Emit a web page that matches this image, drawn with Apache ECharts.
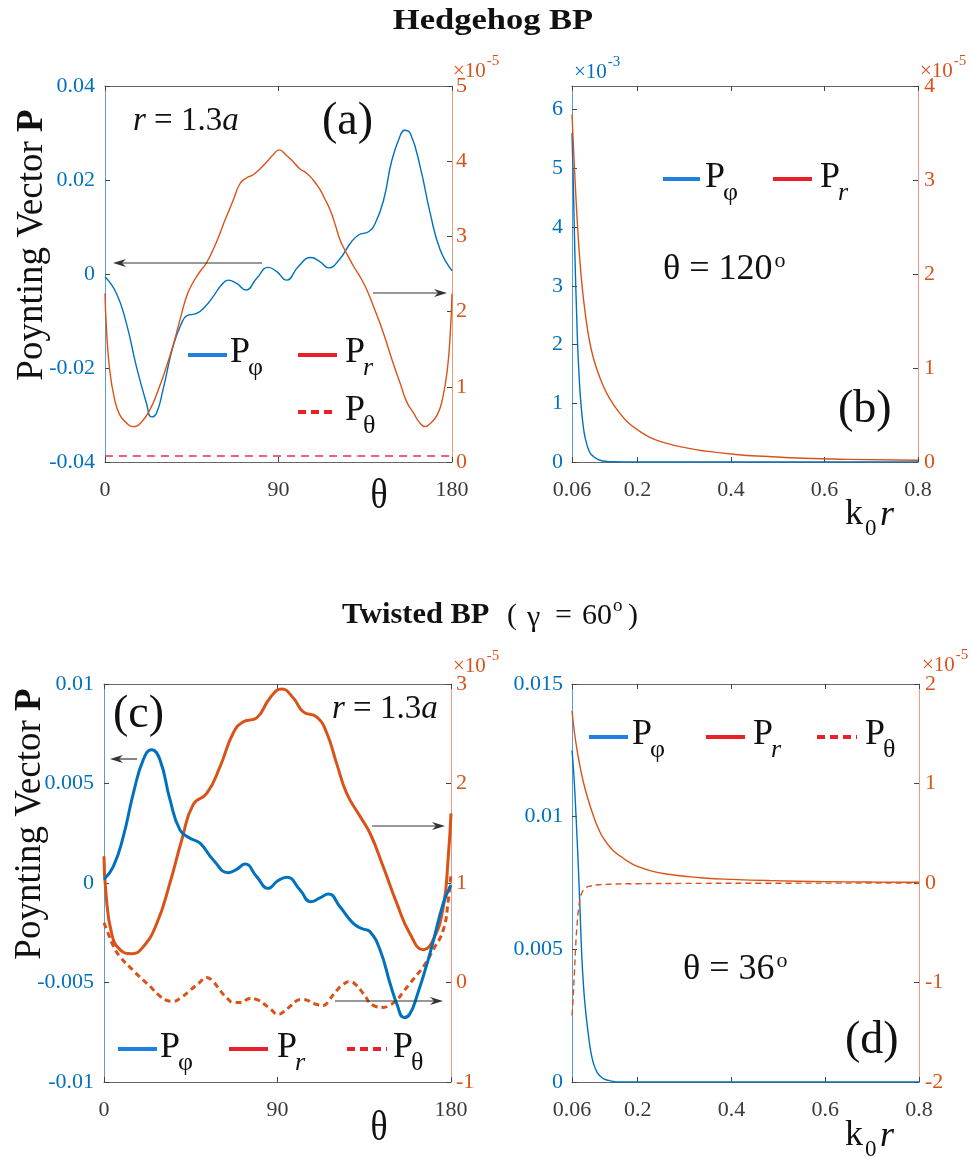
<!DOCTYPE html>
<html>
<head>
<meta charset="utf-8">
<title>Poynting vector</title>
<script src="https://cdn.jsdelivr.net/npm/echarts@6.0.0/dist/echarts.min.js"></script>
<style>
  html, body { margin: 0; padding: 0; background: #fff; }
  #chart { width: 971px; height: 1157px; }
</style>
</head>
<body>
<div id="chart"></div>
<script>
// values
// (a) hedgehog, r = 1.3a, versus theta
const thetaPhiA = [0, 5.9, 11.1, 16.3, 21.5, 24.1, 26.7, 30.1, 35.3, 39.7, 42.3, 47.5, 51.8, 56.1, 60.5, 63.9, 68.3, 73.1, 78.7, 84.7, 89.1, 94.2, 100.3, 106.7, 111.6, 115.9, 122, 127.2, 131.5, 136.7, 140.2, 144.5, 148.8, 153.2, 155.4, 158.4, 163.5, 168.7, 173.9, 180]
const pPhiA = [-0.0006, -0.0041, -0.0105, -0.0197, -0.0275, -0.0304, -0.0296, -0.0246, -0.0154, -0.0105, -0.0089, -0.0084, -0.0070, -0.0048, -0.0023, -0.0013, -0.0020, -0.0034, -0.0009, 0.0014, 0.0005, -0.0013, 0.0016, 0.0035, 0.0026, 0.0013, 0.0033, 0.0065, 0.0083, 0.0090, 0.0108, 0.0157, 0.0242, 0.0295, 0.0306, 0.0299, 0.0228, 0.0129, 0.0051, 0.0007]
const thetaRA = [0, 0.7, 2.4, 5, 7.6, 11.1, 14.6, 18.5, 23.2, 27.5, 31.9, 35.3, 39, 42.3, 45.5, 49.2, 52.7, 57.9, 62, 66.5, 70, 73.5, 76.9, 80.5, 83.9, 87, 90.4, 94, 97.7, 101, 104.6, 108, 111.6, 114, 116.8, 119.5, 122, 125.4, 129, 132.4, 135.8, 140, 144.5, 149, 153.2, 156.5, 160.1, 163, 166.1, 169, 172.4, 175, 177.6, 179.3, 180]
const pRA = [2.24, 1.8, 1.23, 0.83, 0.63, 0.52, 0.47, 0.52, 0.69, 0.95, 1.27, 1.55, 1.9, 2.2, 2.38, 2.53, 2.65, 2.93, 3.2, 3.48, 3.7, 3.78, 3.82, 3.9, 3.99, 4.08, 4.15, 4.08, 3.99, 3.9, 3.84, 3.75, 3.62, 3.5, 3.35, 3.15, 2.95, 2.77, 2.6, 2.46, 2.29, 2.02, 1.71, 1.35, 1.04, 0.8, 0.65, 0.53, 0.47, 0.52, 0.63, 0.83, 1.23, 1.8, 2.24] // x1e-5
const thetaThA = [0, 180]
const pThA = [0.08, 0.08] // x1e-5

// (b) hedgehog, theta = 120, versus k0 r
const kPhiB = [0.06, 0.062, 0.064, 0.066, 0.068, 0.07, 0.072, 0.075, 0.078, 0.082, 0.086, 0.09, 0.095, 0.1, 0.105, 0.11, 0.12, 0.135, 0.15, 0.17, 0.2, 0.4, 0.6, 0.8]
const pPhiB = [5.6, 5.0, 4.3, 3.6, 3.0, 2.5, 2.0, 1.5, 1.1, 0.75, 0.5, 0.35, 0.22, 0.14, 0.1, 0.07, 0.03, 0.01, 0.004, 0.001, 0, 0, 0, 0] // x1e-3
const kRB = [0.06, 0.0625, 0.065, 0.0686, 0.072, 0.076, 0.082, 0.09, 0.097, 0.105, 0.115, 0.126, 0.14, 0.162, 0.18, 0.198, 0.23, 0.269, 0.3, 0.34, 0.41, 0.48, 0.555, 0.65, 0.8]
const pRB = [3.70, 3.42, 3.15, 2.8, 2.5, 2.2, 1.85, 1.52, 1.3, 1.12, 0.96, 0.82, 0.68, 0.52, 0.42, 0.35, 0.255, 0.19, 0.155, 0.12, 0.08, 0.058, 0.04, 0.028, 0.018] // x1e-5

// (c) twisted, r = 1.3a, versus theta
const thetaPhiC = [0, 4.8, 10, 15.2, 20.4, 24.7, 29, 34.2, 39.4, 44.6, 49.8, 56.7, 64.5, 69, 73.1, 79.2, 85.2, 90, 94.8, 101.7, 107.2, 112, 116.4, 122.4, 129.3, 134, 138, 143.2, 148.4, 152, 155.6, 158.5, 162.2, 169.1, 176, 180]
const pPhiC = [0.00018, 0.00082, 0.00233, 0.0045, 0.0062, 0.0067, 0.0062, 0.0042, 0.00267, 0.00225, 0.002, 0.00116, 0.00052, 0.0007, 0.00096, 0.00032, -0.00027, 0.0001, 0.00029, -0.00035, -0.00094, -0.00075, -0.00055, -0.00119, -0.00203, -0.0023, -0.00245, -0.00337, -0.00505, -0.0061, -0.00676, -0.0066, -0.00572, -0.00354, -0.00102, -0.0001]
const thetaRC = [0, 1, 4, 8.3, 14.4, 20.4, 27.3, 34.2, 40.3, 46.3, 53.3, 60.2, 67.1, 72.3, 79.2, 86.1, 92.2, 98.2, 103.4, 110.3, 115.5, 120.7, 125.9, 132.8, 138, 144.9, 151.8, 158.7, 165.7, 170.8, 176, 178.6, 180]
const pRC = [1.27, 0.9, 0.49, 0.33, 0.29, 0.36, 0.59, 1.0, 1.43, 1.79, 1.9, 2.17, 2.51, 2.62, 2.66, 2.86, 2.95, 2.86, 2.72, 2.67, 2.51, 2.2, 1.9, 1.67, 1.5, 1.16, 0.8, 0.49, 0.33, 0.43, 0.76, 1.27, 1.7] // x1e-5
const thetaThC = [0, 2, 5, 8.3, 15.2, 20, 24, 28, 32.5, 36, 40, 44.6, 49, 53.3, 57, 60.2, 64, 67, 71, 75.7, 79, 82.7, 86.5, 90.4, 93.5, 96.5, 99.5, 102.5, 105.5, 108.6, 113.8, 117, 120.7, 124, 127.6, 131, 134.5, 139.7, 144.9, 148, 151.8, 155, 158.7, 162, 165.7, 170.8, 176, 178.6, 180]
const pThC = [0.6, 0.5, 0.36, 0.26, 0.12, 0.03, -0.04, -0.12, -0.18, -0.19, -0.15, -0.08, -0.01, 0.05, 0.0, -0.08, -0.16, -0.2, -0.2, -0.16, -0.17, -0.21, -0.27, -0.32, -0.29, -0.24, -0.19, -0.17, -0.18, -0.21, -0.23, -0.17, -0.08, -0.02, 0.01, -0.03, -0.11, -0.23, -0.25, -0.23, -0.18, -0.1, -0.01, 0.07, 0.16, 0.33, 0.53, 0.83, 1.1] // x1e-5

// (d) twisted, theta = 36, versus k0 r
const kPhiD = [0.06, 0.0635, 0.067, 0.0705, 0.074, 0.0775, 0.081, 0.085, 0.089, 0.092, 0.097, 0.1, 0.106, 0.113, 0.12, 0.127, 0.14, 0.163, 0.2, 0.4, 0.6, 0.8]
const pPhiD = [0.0125, 0.0117, 0.0106, 0.0093, 0.0079, 0.0063, 0.0047, 0.0035, 0.0027, 0.0022, 0.0015, 0.00115, 0.00069, 0.00038, 0.00022, 0.00013, 0.00005, 0, 0, 0, 0, 0]
const kRD = [0.06, 0.065, 0.071, 0.078, 0.085, 0.095, 0.106, 0.115, 0.127, 0.145, 0.163, 0.18, 0.198, 0.23, 0.27, 0.3, 0.34, 0.4, 0.483, 0.6, 0.7, 0.8]
const pRD = [1.73, 1.52, 1.33, 1.15, 1.0, 0.83, 0.67, 0.56, 0.45, 0.34, 0.27, 0.215, 0.17, 0.12, 0.085, 0.068, 0.05, 0.036, 0.024, 0.014, 0.01, 0.007] // x1e-5
const kThD = [0.06, 0.062, 0.065, 0.068, 0.071, 0.074, 0.078, 0.083, 0.088, 0.1, 0.113, 0.14, 0.2, 0.3, 0.5, 0.8]
const pThD = [-1.33, -1.2, -0.91, -0.62, -0.41, -0.26, -0.14, -0.08, -0.05, -0.03, -0.02, -0.012, -0.007, -0.004, -0.002, 0] // x1e-5

// tick positions
const thetaTicks = [0, 90, 180]
const kTicks = [0.06, 0.2, 0.4, 0.6, 0.8]

const SERIF = '"Liberation Serif", "Times New Roman", Times, serif'
const BLUE = '#0072BD'
const ORANGE = '#D95319'
const LEG_BLUE = '#1f80e0'
const LEG_RED = '#e8202a'

const chart = echarts.init(document.getElementById('chart'))

// text width, used to hang super/subscripts after a run of text
const mctx = document.createElement('canvas').getContext('2d')
const textWidth = (s, size, weight) => {
  mctx.font = `${weight || 'normal'} ${size}px ${SERIF}`
  return mctx.measureText(s).width
}

const grids = [
  { left: 105, top: 86, width: 347, height: 376 },
  { left: 572, top: 86, width: 346, height: 376 },
  { left: 104, top: 684, width: 347, height: 398 },
  { left: 572, top: 684, width: 347, height: 398 }
]

const tickStyle = () => ({ show: true, inside: true, length: 5, lineStyle: { color: '#444', width: 1 } })

// bottom + top x axis for a grid
const xPair = (gi, min, max, ticks, interval) => ['bottom', 'top'].map(pos => ({
  gridIndex: gi, type: 'value', position: pos, min, max, interval,
  splitLine: { show: false },
  axisLine: { show: true, onZero: false, lineStyle: { color: '#666', width: 1 } },
  axisTick: Object.assign(tickStyle(), { customValues: ticks }),
  axisLabel: {
    show: pos === 'bottom', customValues: ticks, margin: 17,
    color: '#3a3a3a', fontFamily: SERIF, fontSize: 22,
    formatter: v => String(+(+v).toFixed(3))
  }
}))

const yAx = (gi, pos, min, max, interval, color, lineColor, margin, ticks) => ({
  gridIndex: gi, type: 'value', position: pos, min, max, interval,
  splitLine: { show: false },
  axisLine: { show: true, onZero: false, lineStyle: { color: lineColor, width: 1 } },
  axisTick: Object.assign(tickStyle(), ticks ? { customValues: ticks } : {}),
  axisLabel: Object.assign({
    color, fontFamily: SERIF, fontSize: 22, margin,
    formatter: v => String(+(+v).toFixed(4))
  }, ticks ? { customValues: ticks } : {})
})

const xAxis = [
  ...xPair(0, 0, 180, thetaTicks, 90),
  ...xPair(1, 0.06, 0.8, kTicks),
  ...xPair(2, 0, 180, thetaTicks, 90),
  ...xPair(3, 0.06, 0.8, kTicks)
]

const yAxis = [
  yAx(0, 'left', -0.04, 0.04, 0.02, BLUE, '#5a9bd8', 10),
  yAx(0, 'right', 0, 5, 1, ORANGE, '#eb9a7c', 4),
  yAx(1, 'left', 0, 6.4, 1, BLUE, '#5a9bd8', 9, [0, 1, 2, 3, 4, 5, 6]),
  yAx(1, 'right', 0, 4, 1, ORANGE, '#eb9a7c', 6),
  yAx(2, 'left', -0.01, 0.01, 0.005, BLUE, '#5a9bd8', 10),
  yAx(2, 'right', -1, 3, 1, ORANGE, '#eb9a7c', 5),
  yAx(3, 'left', 0, 0.015, 0.005, BLUE, '#5a9bd8', 9),
  yAx(3, 'right', -2, 2, 1, ORANGE, '#eb9a7c', 6)
]

const pairs = (xs, ys) => xs.map((x, i) => [x, ys[i]])

const line = (gi, right, xs, ys, color, width, dash) => ({
  type: 'line',
  xAxisIndex: gi * 2,
  yAxisIndex: gi * 2 + (right ? 1 : 0),
  data: pairs(xs, ys),
  showSymbol: false,
  symbol: 'none',
  smooth: 0.5,
  lineStyle: { color, width, type: dash || 'solid' },
  silent: true
})

const series = [
  line(0, false, thetaPhiA, pPhiA, BLUE, 1.4),
  line(0, true, thetaRA, pRA, ORANGE, 1.4),
  line(0, true, thetaThA, pThA, '#e2304a', 1.4, [8, 6]),
  line(1, false, kPhiB, pPhiB, BLUE, 1.4),
  line(1, true, kRB, pRB, ORANGE, 1.4),
  line(2, true, thetaThC, pThC, ORANGE, 3, [6, 4]),
  line(2, true, thetaRC, pRC, ORANGE, 3),
  line(2, false, thetaPhiC, pPhiC, BLUE, 3),
  line(3, false, kPhiD, pPhiD, BLUE, 1.4),
  line(3, true, kRD, pRD, ORANGE, 1.4),
  line(3, true, kThD, pThD, ORANGE, 1.4, [6, 4])
]

// annotations
const text = (x, y, s, size, o = {}) => ({
  type: 'text', x, y, z: 100,
  rotation: o.rotation || 0,
  scaleX: o.scaleX || 1,
  style: {
    text: s, fontFamily: SERIF, fontSize: size,
    fontWeight: o.weight || 'normal',
    fontStyle: o.italic ? 'italic' : 'normal',
    fill: o.color || '#111',
    align: o.align || 'left', verticalAlign: 'middle',
    rich: o.rich
  }
})
const legLine = (x1, x2, y, color, dash) => ({
  type: 'line', z: 100,
  shape: { x1, y1: y, x2, y2: y },
  style: { stroke: color, lineWidth: 4, lineDash: dash || null }
})
const legLabel = (x, y, s, italic) => [
  text(x, y, 'P', 36),
  text(x + 18, y + 15, s, 26, { italic })
]
const arrow = (x1, y, x2) => {
  const d = Math.sign(x2 - x1)
  return [
    { type: 'line', z: 100, shape: { x1, y1: y, x2: x2 - d * 8, y2: y }, style: { stroke: '#333', lineWidth: 1.2 } },
    { type: 'polygon', z: 100, shape: { points: [[x2, y], [x2 - d * 13, y - 4], [x2 - d * 9, y], [x2 - d * 13, y + 4]] }, style: { fill: '#333' } }
  ]
}
const mult = (x, y, exp, color) => [
  text(x, y, '×10', 21, { color }),
  text(x + textWidth('×10', 21) + 1, y - 10, exp, 15, { color })
]
// "θ = N" followed by a raised degree 'o'
const angle = (x, y, s, size) => [
  text(x, y, s, size),
  text(x + textWidth(s, size) + 2, y - 9, 'o', 22)
]
const ylabRich = {
  n: { fontFamily: SERIF, fontSize: 37 },
  b: { fontFamily: SERIF, fontSize: 37, fontWeight: 'bold' }
}
const italRich = { i: { fontFamily: SERIF, fontSize: 33, fontStyle: 'italic' } }

const graphic = [
  // titles
  text(493, 22, 'Hedgehog BP', 29, { weight: 'bold', align: 'center', scaleX: 1.19 }),
  text(342, 616, 'Twisted BP', 29, { weight: 'bold', scaleX: 1.05 }),
  text(507, 616, '(', 30),
  text(527, 618, 'γ', 30),
  text(555, 616, '=', 30),
  text(582, 616, '60', 30),
  text(613, 606, 'o', 19),
  text(628, 616, ')', 30),

  // y titles
  text(32, 245, '{n|Poynting Vector }{b|P}', 37, { rotation: Math.PI / 2, align: 'center', rich: ylabRich }),
  text(30, 824, '{n|Poynting Vector }{b|P}', 37, { rotation: Math.PI / 2, align: 'center', rich: ylabRich }),

  // x titles
  text(379, 497, 'θ', 42, { align: 'center', scaleX: 0.85 }),
  text(379, 1129, 'θ', 42, { align: 'center', scaleX: 0.85 }),
  text(845, 515, 'k', 36),
  text(865, 529, '0', 23),
  text(880, 516, 'r', 36, { italic: true }),
  text(845, 1136, 'k', 36),
  text(865, 1150, '0', 23),
  text(880, 1137, 'r', 36, { italic: true }),

  // panel tags
  text(322, 122, '(a)', 46),
  text(838, 410, '(b)', 46),
  text(113, 715, '(c)', 46),
  text(845, 1041, '(d)', 46),

  text(133, 121, '{i|r} = 1.3{i|a}', 33, { rich: italRich }),
  text(332, 709, '{i|r} = 1.3{i|a}', 33, { rich: italRich }),
  ...angle(663, 270, 'θ = 120', 36),
  ...angle(683, 970, 'θ = 36', 36),

  // multipliers
  ...mult(453, 71, '-5', ORANGE),
  ...mult(574, 72, '-3', BLUE),
  ...mult(920, 71, '-5', ORANGE),
  ...mult(453, 666, '-5', ORANGE),
  ...mult(922, 665, '-5', ORANGE),

  // legends
  legLine(188, 227, 355, LEG_BLUE), ...legLabel(230, 353, 'φ'),
  legLine(298, 337, 355, LEG_RED), ...legLabel(345, 353, 'r', true),
  legLine(298, 337, 412, LEG_RED, [8, 5]), ...legLabel(345, 411, 'θ'),

  legLine(663, 700, 179, LEG_BLUE), ...legLabel(705, 178, 'φ'),
  legLine(773, 812, 179, LEG_RED), ...legLabel(820, 178, 'r', true),

  legLine(118, 157, 1049, LEG_BLUE), ...legLabel(160, 1048, 'φ'),
  legLine(229, 268, 1049, LEG_RED), ...legLabel(277, 1048, 'r', true),
  legLine(347, 387, 1049, LEG_RED, [8, 5]), ...legLabel(393, 1048, 'θ'),

  legLine(589, 628, 737, LEG_BLUE), ...legLabel(632, 735, 'φ'),
  legLine(706, 745, 737, LEG_RED), ...legLabel(753, 735, 'r', true),
  legLine(817, 857, 737, LEG_RED, [8, 5]), ...legLabel(865, 735, 'θ'),

  // arrows pointing at the axis each curve belongs to
  ...arrow(262, 263, 113),
  ...arrow(373, 293, 447),
  ...arrow(137, 759, 110),
  ...arrow(372, 826, 445),
  ...arrow(335, 1001, 443)
]

chart.setOption({
  backgroundColor: '#fff',
  animation: false,
  grid: grids,
  xAxis,
  yAxis,
  series,
  graphic
})
</script>
</body>
</html>
